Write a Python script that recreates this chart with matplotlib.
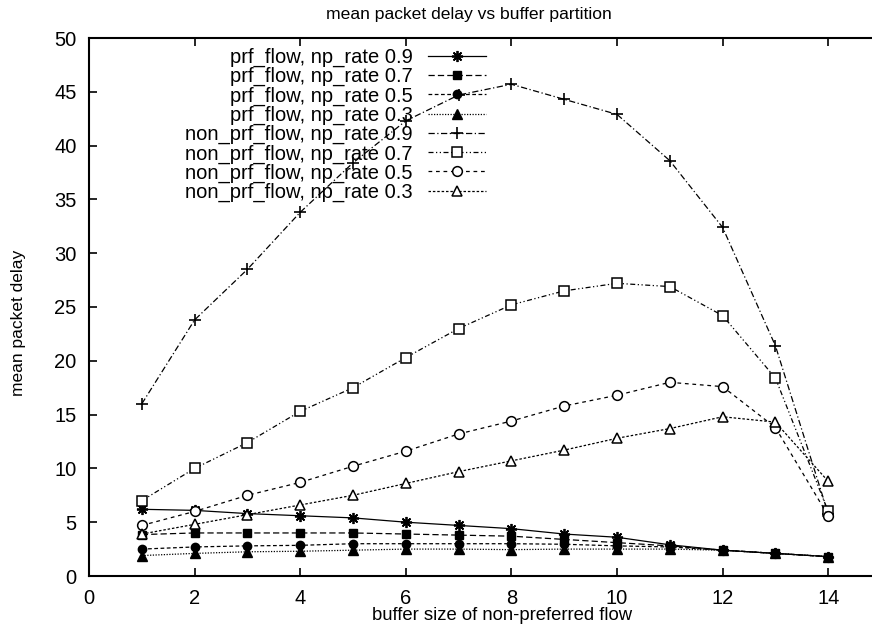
import matplotlib
matplotlib.use("Agg")
import matplotlib.pyplot as plt

plt.rcParams['font.family'] = ['Liberation Sans', 'DejaVu Sans']

# buffer size of the non-preferred flow
buffer_size = [1, 2, 3, 4, 5, 6, 7, 8, 9, 10, 11, 12, 13, 14]

# mean packet delay of the preferred flow
prf_09 = [6.2, 6.1, 5.8, 5.6, 5.4, 5.0, 4.7, 4.4, 3.9, 3.6, 2.9, 2.4, 2.1, 1.8]
prf_07 = [3.85, 4.0, 4.0, 4.0, 4.0, 3.9, 3.8, 3.7, 3.4, 3.1, 2.8, 2.4, 2.1, 1.8]
prf_05 = [2.5, 2.7, 2.8, 2.85, 3.0, 3.0, 3.0, 3.0, 2.95, 2.8, 2.7, 2.4, 2.1, 1.8]
prf_03 = [1.9, 2.1, 2.25, 2.3, 2.4, 2.5, 2.5, 2.45, 2.5, 2.5, 2.5, 2.4, 2.1, 1.8]

# mean packet delay of the non-preferred flow
non_prf_09 = [16.0, 23.8, 28.5, 33.8, 38.4, 42.3, 44.7, 45.7, 44.3, 42.9, 38.6, 32.4, 21.4, 5.8]
non_prf_07 = [7.0, 10.0, 12.4, 15.3, 17.5, 20.3, 23.0, 25.2, 26.5, 27.2, 26.9, 24.2, 18.4, 6.0]
non_prf_05 = [4.7, 6.0, 7.5, 8.7, 10.2, 11.6, 13.2, 14.4, 15.8, 16.8, 18.0, 17.6, 13.8, 5.6]
non_prf_03 = [3.9, 4.8, 5.7, 6.6, 7.5, 8.6, 9.7, 10.7, 11.7, 12.8, 13.7, 14.8, 14.3, 8.8]

labels = ["prf_flow, np_rate 0.9", "prf_flow, np_rate 0.7",
          "prf_flow, np_rate 0.5", "prf_flow, np_rate 0.3",
          "non_prf_flow, np_rate 0.9", "non_prf_flow, np_rate 0.7",
          "non_prf_flow, np_rate 0.5", "non_prf_flow, np_rate 0.3"]

fig = plt.figure(figsize=(8.72, 6.25), dpi=100)
ax = fig.add_axes([89 / 872, 49 / 625, (881 - 89) / 872, (587 - 49) / 625])

lw = 0.9
series = [
    (prf_09, dict(linestyle='-', marker=(8, 2, 0), markersize=8, mew=1.3, mfc='black')),
    (prf_07, dict(linestyle=(0, (5, 2.5)), marker='s', markersize=6, mfc='black')),
    (prf_05, dict(linestyle=(0, (3, 2)), marker='o', markersize=6, mfc='black')),
    (prf_03, dict(linestyle=(0, (1, 1.2)), marker='^', markersize=6.5, mfc='black')),
    (non_prf_09, dict(linestyle=(0, (5, 2, 1, 2)), marker='+', markersize=8, mew=1.2)),
    (non_prf_07, dict(linestyle=(0, (4, 2, 1, 2, 1, 2)), marker='s', markersize=7, mfc='white', mew=1.1)),
    (non_prf_05, dict(linestyle=(0, (3, 3)), marker='o', markersize=7, mfc='white', mew=1.1)),
    (non_prf_03, dict(linestyle=(0, (2, 1.5)), marker='^', markersize=7, mfc='white', mew=1.1)),
]
for (vals, style), lab in zip(series, labels):
    ax.plot(buffer_size, vals, color='black', mec='black', lw=lw, label=lab, **style)

ax.set_xlim(0, 15)
ax.set_ylim(0, 50)
ax.set_xticks([0, 2, 4, 6, 8, 10, 12, 14])
ax.set_yticks(range(0, 51, 5))
ax.tick_params(direction='in', length=6, width=1.2, top=True, right=True,
               labelsize=14.5)
ax.tick_params(axis='x', pad=9)
ax.tick_params(axis='y', pad=9)
for sp in ax.spines.values():
    sp.set_linewidth(1.5)

leg = ax.legend(loc='upper right', bbox_to_anchor=(486 / 872, 1 - 48 / 625),
                bbox_transform=fig.transFigure, frameon=False, markerfirst=False,
                fontsize=14.5, handlelength=2.9, handletextpad=0.75,
                labelspacing=0.0, borderpad=0, borderaxespad=0)

fig.text(469 / 872, 1 - 14 / 625, "mean packet delay vs buffer partition",
         ha='center', va='center', fontsize=12.6)
fig.text(502 / 872, 1 - 615 / 625, "buffer size of non-preferred flow",
         ha='center', va='center', fontsize=13.3)
fig.text(18 / 872, 1 - 323 / 625, "mean packet delay", rotation=90,
         ha='center', va='center', fontsize=12.5)

fig.savefig("out.png", dpi=100)
